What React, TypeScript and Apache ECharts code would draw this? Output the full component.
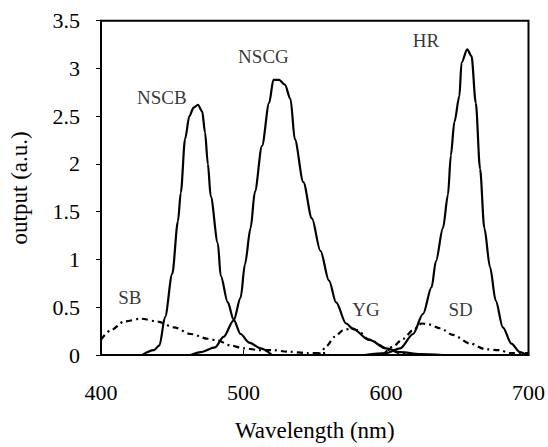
import React, { useEffect, useRef } from "react";
import * as echarts from "echarts";

// Emission spectra (wavelength nm, output a.u.)
const NSCB: [number, number][] = [
  [429, 0], [437, 0.05], [441, 0.1], [445, 0.4], [450, 0.85], [454, 1.4], [456, 1.7],
  [459, 2.26], [462, 2.5], [465, 2.59], [468, 2.62], [471, 2.55], [473, 2.33], [475, 2.0],
  [477, 1.66], [482, 1.17], [484, 0.83], [489, 0.55], [493, 0.37], [498, 0.22], [504, 0.13],
  [512, 0.07], [520, 0.0],
];
const NSCG: [number, number][] = [
  [463, 0], [470, 0.03], [480, 0.08], [486, 0.19], [493, 0.36], [498, 0.6], [501, 0.95],
  [505, 1.33], [508, 1.71], [513, 2.19], [518, 2.64], [521, 2.88], [525, 2.88], [529, 2.83],
  [533, 2.68], [536, 2.26], [542, 1.81], [548, 1.43], [554, 1.09], [560, 0.78], [565, 0.55],
  [572, 0.33], [577, 0.27], [588, 0.16], [600, 0.07], [610, 0.03], [624, 0.01], [640, 0],
];
const HR: [number, number][] = [
  [585, 0], [600, 0.02], [610, 0.07], [619, 0.22], [626, 0.43], [632, 0.71], [635, 0.98],
  [640, 1.33], [643.5, 1.68], [645.5, 2.09], [648, 2.44], [651.5, 2.71], [653, 3.06],
  [657, 3.2], [660, 3.13], [663, 2.64], [666, 1.95], [669, 1.33], [673, 0.92], [677, 0.57],
  [682, 0.29], [688, 0.12], [694, 0.03], [698, 0.01], [700, 0],
];
const SB: [number, number][] = [
  [400, 0.16], [407, 0.26], [416, 0.35], [428, 0.38], [440, 0.35], [451, 0.29], [463, 0.22],
  [475, 0.17], [482, 0.15], [491, 0.1], [500, 0.07], [512, 0.05], [521, 0.05], [531, 0.035],
  [545, 0.02], [560, 0.02],
];
const YG: [number, number][] = [
  [550, 0.01], [554, 0.02], [558, 0.09], [564, 0.19], [570, 0.26], [576, 0.28], [580, 0.26],
  [588, 0.16], [603, 0.05], [610, 0.02], [620, 0],
];
const SD: [number, number][] = [
  [598, 0], [605, 0.09], [612, 0.17], [619, 0.26], [625, 0.33], [630, 0.32], [638, 0.28],
  [647, 0.21], [659, 0.12], [670, 0.06], [680, 0.05], [687, 0.02], [700, 0.02],
];

// Curve labels (name, wavelength, output)
const LABEL_NAMES = ["NSCB", "NSCG", "HR", "SB", "YG", "SD"];
const LABEL_X = [442.7, 514, 628, 420.3, 586, 652.4];
const LABEL_Y = [2.7, 3.12, 3.29, 0.6, 0.48, 0.48];

const X_MIN = 400, X_MAX = 700, X_STEP = 100;
const Y_MIN = 0, Y_MAX = 3.5, Y_STEP = 0.5;

const FONT = "'Liberation Serif', 'Times New Roman', serif";

export default function App() {
  const ref = useRef<HTMLDivElement>(null);
  useEffect(() => {
    if (!ref.current) return;
    const chart = echarts.init(ref.current, undefined, { renderer: "svg" });
    const solid = { color: "#000", width: 2.2, type: "solid" as const };
    const dashdot = { color: "#000", width: 2.2, type: [6, 4, 2, 4] as any };
    const line = (name: string, data: [number, number][], ls: any) => ({
      name,
      type: "line",
      data,
      showSymbol: false,
      symbol: "none",
      smooth: 0.3,
      smoothMonotone: "x",
      lineStyle: ls,
      silent: true,
      z: 3,
    });
    chart.setOption({
      animation: false,
      backgroundColor: "#fff",
      textStyle: { fontFamily: FONT, color: "#000" },
      grid: {
        left: 100,
        right: 19,
        top: 20.7,
        bottom: 88.7,
        show: true,
        borderColor: "#000",
        borderWidth: 2,
        backgroundColor: "transparent",
      },
      xAxis: {
        type: "value",
        min: X_MIN,
        max: X_MAX,
        interval: X_STEP,
        name: "Wavelength (nm)",
        nameLocation: "middle",
        nameGap: 64,
        nameTextStyle: { fontFamily: FONT, fontSize: 23, color: "#000" },
        axisLine: { show: true, onZero: false, lineStyle: { color: "#000", width: 2 } },
        axisTick: { show: true, inside: true, length: 5, lineStyle: { color: "#000", width: 1 } },
        axisLabel: { fontFamily: FONT, fontSize: 22, color: "#000", margin: 26 },
        splitLine: { show: false },
      },
      yAxis: {
        type: "value",
        min: Y_MIN,
        max: Y_MAX,
        interval: Y_STEP,
        name: "output (a.u.)",
        nameLocation: "middle",
        nameRotate: 90,
        nameGap: 70,
        nameTextStyle: { fontFamily: FONT, fontSize: 23, color: "#000" },
        axisLine: { show: true, lineStyle: { color: "#000", width: 2 } },
        axisTick: { show: true, inside: false, length: 5, lineStyle: { color: "#000", width: 1 } },
        axisLabel: { fontFamily: FONT, fontSize: 22, color: "#000", margin: 21 },
        splitLine: { show: false },
      },
      series: [
        line("NSCB", NSCB, solid),
        line("NSCG", NSCG, solid),
        line("HR", HR, solid),
        line("SB", SB, dashdot),
        line("YG", YG, dashdot),
        line("SD", SD, dashdot),
        {
          name: "labels",
          type: "scatter",
          symbolSize: 0,
          itemStyle: { color: "transparent" },
          silent: true,
          data: LABEL_NAMES.map((n, i) => ({ value: [LABEL_X[i], LABEL_Y[i]], name: n })),
          label: {
            show: true,
            position: "inside",
            formatter: (p: any) => p.name,
            fontFamily: FONT,
            fontSize: 19,
            color: "#000",
            textBorderWidth: 0,
            textBorderColor: "transparent",
          },
          z: 5,
        },
      ],
    });
    return () => chart.dispose();
  }, []);
  return (
    <div
      ref={ref}
      style={{ position: "fixed", left: 0, top: 0, width: 548, height: 447, background: "#fff" }}
    />
  );
}
